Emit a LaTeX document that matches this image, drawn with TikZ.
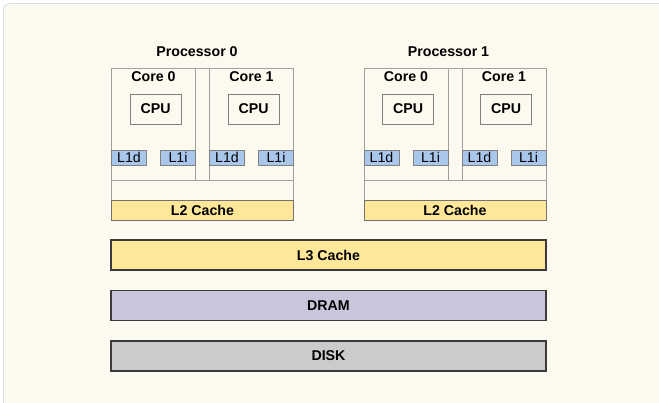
\documentclass[tikz,border=0pt]{standalone}
\usepackage{fontspec}
\setmainfont{Liberation Sans}
\usepackage{tikz}
\usetikzlibrary{positioning,shapes,arrows.meta}

\definecolor{bgcream}{HTML}{FCF9EE}
\definecolor{framegray}{HTML}{DCDCDC}
\definecolor{boxgray}{HTML}{A0A0A0}
\definecolor{l1blue}{HTML}{A8C7EB}
\definecolor{cacheyellow}{HTML}{FFE79A}
\definecolor{dramlav}{HTML}{C8C6DB}
\definecolor{diskgray}{HTML}{CBCBCB}
\definecolor{barline}{HTML}{3A3A3A}

\tikzset{
  txt/.style={font=\fontsize{14.2}{16}\selectfont\bfseries},
  procbox/.style={draw=boxgray, line width=0.9pt, minimum width=182, minimum height=152, inner sep=0pt},
  corebox/.style={draw=boxgray, line width=0.9pt, minimum width=84, minimum height=111.5, inner sep=0pt},
  cpubox/.style={draw=gray, line width=0.9pt, minimum width=51, minimum height=30, inner sep=0pt, txt},
  l1box/.style={draw=gray, fill=l1blue, line width=0.9pt, minimum width=35, minimum height=15, inner sep=0pt, font=\fontsize{14.2}{16}\selectfont},
  l2box/.style={draw=gray!90!black, fill=cacheyellow, line width=0.9pt, minimum width=182, minimum height=20.5, inner sep=0pt, txt},
  bar/.style={draw=barline, line width=1.6pt, minimum width=435, minimum height=30, inner sep=0pt, txt}
}

\begin{document}
\begin{tikzpicture}[x=1pt, y=-1pt]
				\useasboundingbox (0,0) rectangle (659,402);
				\fill[white] (0,0) rectangle (659,402);
				\draw[draw=framegray, fill=bgcream, rounded corners=6pt, line width=0.8pt] (3.5,3.5) rectangle (720,460);
				% processor 0
				\node[txt] (P0) at (197, 52) {Processor 0};
				\node[procbox] (proc0) at (202.5, 144.5) {};
				\node[corebox] (core00) at (153.5, 124.25) {};
				\node[corebox] (core01) at (251.5, 124.25) {};
				\draw[draw=boxgray, line width=0.9pt] (proc0.west |- core00.south) -- (proc0.east |- core00.south);
				\node[txt] (c00) at (153.5, 76.5) {Core 0};
				\node[txt] (c01) at (251.5, 76.5) {Core 1};
				\node[cpubox] (cpu00) at (155.7, 109) {CPU};
				\node[cpubox] (cpu01) at (253.7, 109) {CPU};
				\node[l1box] (d00) at (129, 157.5) {L1d};
				\node[l1box] (i00) at (178, 157.5) {L1i};
				\node[l1box] (d01) at (227, 157.5) {L1d};
				\node[l1box] (i01) at (276, 157.5) {L1i};
				\node[l2box] (L20) at (202.5, 210.25) {L2 Cache};
				% processor 1
				\node[txt] (P1) at (448.5, 52) {Processor 1};
				\node[procbox] (proc1) at (455, 144.5) {};
				\node[corebox] (core10) at (406, 124.25) {};
				\node[corebox] (core11) at (504, 124.25) {};
				\draw[draw=boxgray, line width=0.9pt] (proc1.west |- core10.south) -- (proc1.east |- core10.south);
				\node[txt] (c10) at (406, 76.5) {Core 0};
				\node[txt] (c11) at (504, 76.5) {Core 1};
				\node[cpubox] (cpu10) at (408.2, 109) {CPU};
				\node[cpubox] (cpu11) at (506.2, 109) {CPU};
				\node[l1box] (d10) at (381.5, 157.5) {L1d};
				\node[l1box] (i10) at (430.5, 157.5) {L1i};
				\node[l1box] (d11) at (479.5, 157.5) {L1d};
				\node[l1box] (i11) at (528.5, 157.5) {L1i};
				\node[l2box] (L21) at (455, 210.25) {L2 Cache};
				% shared levels
				\node[bar, fill=cacheyellow] (L3) at (328.5, 255) {L3 Cache};
				\node[bar, fill=dramlav] (dram) at (328.5, 305.5) {DRAM};
				\node[bar, fill=diskgray] (disk) at (328.5, 355.8) {DISK};
			\end{tikzpicture}
\end{document}
